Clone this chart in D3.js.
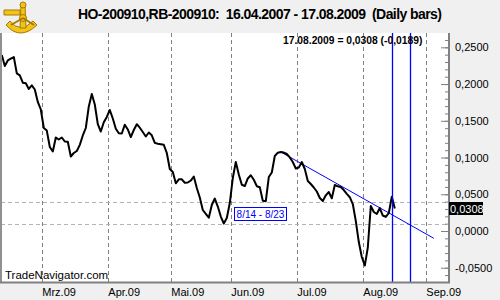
<!DOCTYPE html>
<html>
<head>
<meta charset="utf-8">
<script src="https://cdn.jsdelivr.net/npm/d3@7"></script>
<style>
  body { margin: 0; background: #f0f0f0; }
  svg { display: block; font-family: "Liberation Sans", Arial, sans-serif; }
  .grid-v { stroke: #808080; stroke-dasharray: 4,3; }
  .grid-h { stroke: #b4b4b4; stroke-dasharray: 4,3; }
  .yaxis path, .yaxis line { stroke: #808080; }
  .yaxis text { font-size: 11px; fill: #000; }
</style>
</head>
<body>
<script>
const width = 500, height = 300
const plot = { left: 1, right: 449, top: 33, bottom: 282 }

// first bar of the series and the last day shown on the axis
const firstDay = "2009-02-09"
const lastAxisDay = "2009-09-11"
const holidays = ["2009-02-16", "2009-04-10", "2009-05-25", "2009-07-03", "2009-09-07"]

// spread values, one per trading day, Feb 9 .. Aug 17 2009
const febValues = [0.2396, 0.2246, 0.2321, 0.2345, 0.2368, 0.2146, 0.2119, 0.2019, 0.2010, 0.1933,
    0.1983, 0.1926, 0.1756, 0.1654]
const marValues = [0.1402, 0.1367, 0.1143, 0.1082, 0.1273, 0.1245, 0.1273, 0.1218, 0.1215, 0.1014,
    0.1062, 0.1089, 0.1173, 0.1300, 0.1402, 0.1695, 0.1865, 0.1722, 0.1456, 0.1354, 0.1480, 0.1552]
const aprValues = [0.1647, 0.1531, 0.1392, 0.1330, 0.1327, 0.1447, 0.1382, 0.1279, 0.1375, 0.1454,
    0.1406, 0.1347, 0.1286, 0.1341, 0.1303, 0.1200, 0.1188, 0.1181, 0.1173, 0.1062, 0.0844]
const mayValues = [0.0803, 0.0649, 0.0704, 0.0704, 0.0657, 0.0660, 0.0687, 0.0742, 0.0585, 0.0456,
    0.0286, 0.0234, 0.0181, 0.0354, 0.0442, 0.0333, 0.0197, 0.0102, 0.0177, 0.0381]
const junValues = [0.0721, 0.0939, 0.0769, 0.0629, 0.0612, 0.0715, 0.0759, 0.0697, 0.0610, 0.0596,
    0.0411, 0.0406, 0.0735, 0.0796, 0.1021, 0.1066, 0.1075, 0.1068, 0.1048, 0.1002, 0.0939, 0.0851]
const julValues = [0.0864, 0.0939, 0.0844, 0.0681, 0.0640, 0.0592, 0.0538, 0.0449, 0.0408, 0.0486,
    0.0531, 0.0445, 0.0626, 0.0608, 0.0598, 0.0558, 0.0506, 0.0460, 0.0367, 0.0136, -0.0150, -0.0354]
const augValues = [-0.0470, -0.0225, 0.0340, 0.0259, 0.0231, 0.0313, 0.0211, 0.0191, 0.0245, 0.0467, 0.0308]

const monthLabels = ["Mrz.09", "Apr.09", "Mai.09", "Jun.09", "Jul.09", "Aug.09", "Sep.09"]
const yTicks = [-0.05, 0, 0.05, 0.10, 0.15, 0.20, 0.25]

// drawn trend line and markers
const trendStart = { date: "2009-06-23", value: 0.1075 }
const trendEnd = { date: "2009-09-03", value: -0.0099 }
const markerDays = ["2009-08-17", "2009-08-25"]
const levelLines = [0.0395, 0.0095]
const lastValue = 0.0308
const changeText = "17.08.2009 = 0,0308 (-0,0189)"
const rangeText = "8/14 - 8/23"
const titleText = "HO-200910,RB-200910:  16.04.2007 - 17.08.2009  (Daily bars)"

const fmtDay = d3.utcFormat("%Y-%m-%d")
const days = d3.utcDay.range(new Date(firstDay), d3.utcDay.offset(new Date(lastAxisDay), 1))
    .filter(d => d.getUTCDay() !== 0 && d.getUTCDay() !== 6 && !holidays.includes(fmtDay(d)))
    .map(fmtDay)

const values = [].concat(febValues, marValues, aprValues, mayValues, junValues, julValues, augValues)
const data = values.map((v, i) => ({ date: days[i], value: v }))

const locale = d3.formatLocale({ decimal: ",", thousands: ".", grouping: [3], currency: ["", ""], minus: "-" })
const fmt4 = locale.format(".4f")

const x = d3.scaleBand().domain(days).range([0.3, 0.3 + 3 * days.length]).padding(0)
const xc = d => x(d) + x.bandwidth() / 2
const y = d3.scaleLinear().domain([-0.0694, 0.2695]).range([plot.bottom, plot.top])

const svg = d3.select("body").append("svg")
    .attr("width", width).attr("height", height)

svg.append("rect").attr("width", width).attr("height", height).attr("fill", "#f0f0f0")

svg.append("defs").append("clipPath").attr("id", "clip")
    .append("rect")
    .attr("x", plot.left).attr("y", plot.top)
    .attr("width", plot.right - plot.left).attr("height", plot.bottom - plot.top)

svg.append("rect")
    .attr("x", plot.left).attr("y", plot.top)
    .attr("width", plot.right - plot.left).attr("height", plot.bottom - plot.top)
    .attr("fill", "#fff")

const g = svg.append("g").attr("clip-path", "url(#clip)")

// first trading day of each month from March on
const monthStarts = days.filter((d, i) => i > 0 && d.slice(5, 7) !== days[i - 1].slice(5, 7))

g.selectAll(".grid-v")
    .data(monthStarts)
    .enter().append("line")
    .attr("class", "grid-v")
    .attr("x1", d => Math.round(x(d)) + 0.5).attr("x2", d => Math.round(x(d)) + 0.5)
    .attr("y1", plot.top).attr("y2", plot.bottom)

g.selectAll(".grid-h")
    .data(levelLines)
    .enter().append("line")
    .attr("class", "grid-h")
    .attr("x1", plot.left).attr("x2", plot.right)
    .attr("y1", d => Math.round(y(d)) + 0.5).attr("y2", d => Math.round(y(d)) + 0.5)

svg.append("text")
    .attr("x", 5).attr("y", 279)
    .style("font-size", "11.5px")
    .text("TradeNavigator.com")

svg.append("text")
    .attr("x", 283).attr("y", 44)
    .style("font-size", "10.3px").style("font-weight", "bold")
    .text(changeText)

// trend line
g.append("line")
    .attr("x1", xc(trendStart.date)).attr("y1", y(trendStart.value))
    .attr("x2", xc(trendEnd.date)).attr("y2", y(trendEnd.value))
    .attr("stroke", "#0000ff").attr("stroke-width", 1)

const line = d3.line()
    .x(d => xc(d.date))
    .y(d => y(d.value))

g.append("path")
    .datum(data)
    .attr("fill", "none")
    .attr("stroke", "#000")
    .attr("stroke-width", 2)
    .attr("stroke-linejoin", "round")
    .attr("d", line)

g.selectAll(".marker")
    .data(markerDays)
    .enter().append("line")
    .attr("class", "marker")
    .attr("x1", d => Math.round(x(d)) - 0.5).attr("x2", d => Math.round(x(d)) - 0.5)
    .attr("y1", plot.top).attr("y2", plot.bottom)
    .attr("stroke", "#0000ff").attr("stroke-width", 1.3)

// range box
const box = svg.append("g").attr("transform", "translate(234.5,207.5)")
box.append("rect").attr("width", 52).attr("height", 13)
    .attr("fill", "#fff").attr("stroke", "#0000ff")
box.append("text").attr("x", 26).attr("y", 10.5)
    .attr("text-anchor", "middle")
    .style("font-size", "10px").attr("fill", "#0000ff")
    .text(rangeText)

// frame
svg.append("line").attr("x1", 1).attr("x2", 1).attr("y1", plot.top).attr("y2", plot.bottom + 1)
    .attr("stroke", "#909090").attr("stroke-width", 2)
svg.append("line").attr("x1", 0).attr("x2", plot.right + 1).attr("y1", plot.bottom + 0.5).attr("y2", plot.bottom + 0.5)
    .attr("stroke", "#808080").attr("stroke-width", 2)

// right axis: minor ticks then labelled major ticks
svg.append("g")
    .attr("class", "yaxis")
    .attr("transform", `translate(${plot.right},0)`)
    .call(d3.axisRight(y).tickValues(d3.range(-6, 27).map(k => k / 100)).tickSizeInner(-4).tickSizeOuter(0).tickFormat(""))
    .call(a => a.select(".domain").remove())

svg.append("g")
    .attr("class", "yaxis")
    .attr("transform", `translate(${plot.right},0)`)
    .call(d3.axisRight(y).tickValues(yTicks).tickSizeInner(-8).tickSizeOuter(0).tickPadding(6).tickFormat(fmt4))
    .call(a => a.select(".domain").attr("stroke-width", 2).attr("d", `M0,${plot.top}V${plot.bottom + 1}`))

// last value label
const lv = svg.append("g").attr("transform", `translate(449,${Math.round(y(lastValue)) - 6})`)
lv.append("rect").attr("width", 34).attr("height", 13).attr("fill", "#000")
lv.append("text").attr("x", 1).attr("y", 10.5)
    .style("font-size", "11px").attr("fill", "#fff")
    .text(fmt4(lastValue))

// month labels
svg.selectAll(".month")
    .data(monthStarts)
    .enter().append("text")
    .attr("class", "month")
    .attr("x", d => x(d))
    .attr("y", 296)
    .style("font-size", "11px")
    .text((d, i) => monthLabels[i])

// title
svg.append("text")
    .attr("x", 78).attr("y", 18.5)
    .attr("textLength", 364).attr("lengthAdjust", "spacing")
    .style("font-size", "14px").style("font-weight", "bold").style("white-space", "pre")
    .text(titleText)

// logo (sextant)
const logo = svg.append("g").attr("transform", "translate(3,1)")
    .attr("fill", "#f2c318").attr("stroke", "#a87a00").attr("stroke-width", 1)
logo.append("path").attr("d", "M3,24 Q17,40 34,24 L30,20 Q17,33 7,20 Z")
logo.append("path").attr("d", "M18,3 L22,3 L23,27 L17,27 Z")
logo.append("path").attr("d", "M1,9 L17,9 L17,14 L1,14 Z")
logo.append("circle").attr("cx", 20).attr("cy", 4).attr("r", 3)
logo.append("circle").attr("cx", 20).attr("cy", 17).attr("r", 3.5)
logo.append("path").attr("d", "M20,17 L8,24 M20,17 L31,24").attr("fill", "none").attr("stroke-width", 2)
</script>
</body>
</html>
